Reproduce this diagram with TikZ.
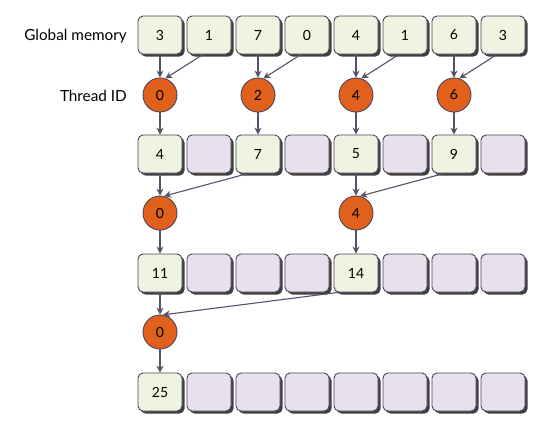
\documentclass[tikz,border=0pt]{standalone}
\usepackage{fontspec}
\setmainfont{Lato}
\usetikzlibrary{shadows,arrows.meta,calc}
\definecolor{boxfill}{HTML}{EFF3E1}
\definecolor{emptyfill}{HTML}{E9E0EE}
\definecolor{edge}{HTML}{4A4458}
\definecolor{thread}{HTML}{E0601C}
\definecolor{arrowc}{HTML}{575068}
\tikzset{
  cell/.style={draw=edge, line width=0.9pt, rounded corners=5pt, minimum width=44pt, minimum height=38pt,
    inner sep=0pt, font=\fontsize{14}{16}\selectfont,
    drop shadow={shadow xshift=2.5pt, shadow yshift=-2.5pt, fill=black!75, opacity=1}},
  full/.style={cell, fill=boxfill},
  empty/.style={cell, fill=emptyfill},
  tid/.style={circle, draw=edge, line width=0.9pt, fill=thread, minimum size=34pt, inner sep=0pt,
    font=\fontsize{14}{16}\selectfont},
  arr/.style={draw=arrowc, line width=1.1pt, -{Stealth[length=7pt,width=7pt]}},
  lbl/.style={anchor=east, font=\fontsize{15.3}{17}\selectfont, inner sep=0pt}
}
\begin{document}
\begin{tikzpicture}[x=1pt,y=-1pt]
\useasboundingbox (0,0) rectangle (536,421);
% labels
\node[lbl] (lg) at (127,36) {Global memory};
\node[lbl] (lt) at (127,96) {Thread ID};
% row 1
\foreach \v [count=\i from 0] in {3,1,7,0,4,1,6,3}
  \node[full] (a\i) at (160+49*\i,35) {\v};
% threads level 1
\foreach \t in {0,2,4,6}
  \node[tid] (t\t) at (160+49*\t,95) {\t};
% row 2
\node[full] (b0) at (160,154) {4};
\node[empty] (b1) at (209,154) {};
\node[full] (b2) at (258,154) {7};
\node[empty] (b3) at (307,154) {};
\node[full] (b4) at (356,154) {5};
\node[empty] (b5) at (405,154) {};
\node[full] (b6) at (454,154) {9};
\node[empty] (b7) at (503,154) {};
% threads level 2
\node[tid] (u0) at (160,213) {0};
\node[tid] (u4) at (356,213) {4};
% row 3
\node[full] (c0) at (160,273) {11};
\foreach \i in {1,2,3}
  \node[empty] (c\i) at (160+49*\i,273) {};
\node[full] (c4) at (356,273) {14};
\foreach \i in {5,6,7}
  \node[empty] (c\i) at (160+49*\i,273) {};
% thread level 3
\node[tid] (w0) at (160,332) {0};
% row 4
\node[full] (d0) at (160,392) {25};
\foreach \i in {1,...,7}
  \node[empty] (d\i) at (160+49*\i,392) {};
% arrows level 1
\foreach \t/\n in {0/1,2/3,4/5,6/7}{
  \draw[arr] (a\t.south) -- (t\t.north);
  \draw[arr] ($(a\n.south)+(-6,0)$) -- (t\t.72);
  \draw[arr] (t\t.south) -- (b\t.north);
}
% arrows level 2
\draw[arr] (b0.south) -- (u0.north);
\draw[arr] ($(b2.south)+(-10,0)$) -- (u0.76);
\draw[arr] (u0.south) -- (c0.north);
\draw[arr] (b4.south) -- (u4.north);
\draw[arr] ($(b6.south)+(-10,0)$) -- (u4.76);
\draw[arr] (u4.south) -- (c4.north);
% arrows level 3
\draw[arr] (c0.south) -- (w0.north);
\draw[arr] ($(c4.south)+(-18,0)$) -- (w0.80);
\draw[arr] (w0.south) -- (d0.north);
\end{tikzpicture}
\end{document}
